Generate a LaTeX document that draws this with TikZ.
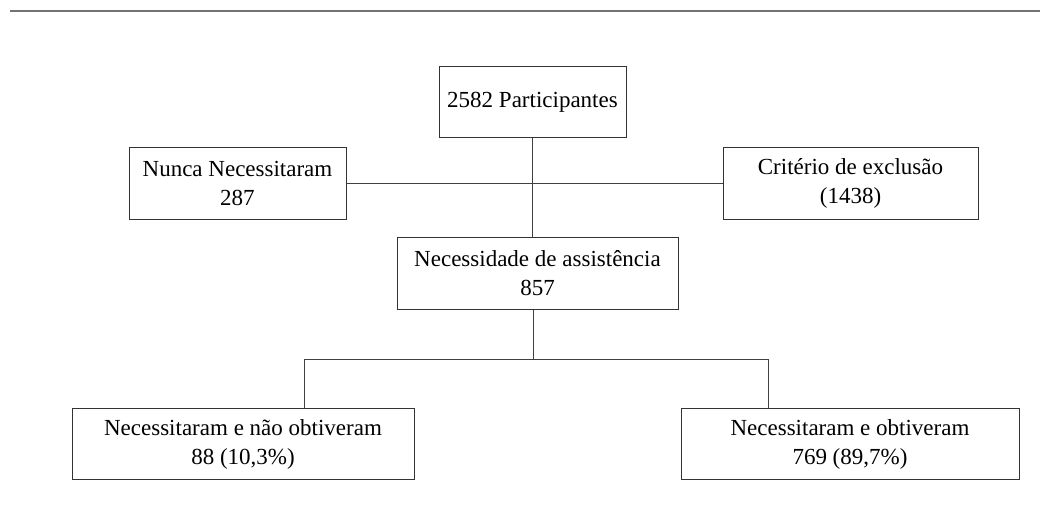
\documentclass[tikz,border=0pt]{standalone}
\usepackage{fontspec}
\setmainfont{Liberation Serif}
\begin{document}
\begin{tikzpicture}
			[x=0.5pt,y=-0.5pt,
			box/.style={draw=black!80,line width=0.5pt,inner sep=0pt,align=center,minimum height=35.75pt,font=\fontsize{11.5}{14.5}\selectfont},
			link/.style={draw=black!75,line width=0.5pt}]
			\useasboundingbox (0,0) rectangle (1040,524);
			\draw[line width=1pt,black!55] (10,11)--(1040,11);
			\node[box,name=part,minimum width=93.5pt] at (532.5,102) {2582 Participantes};
			\node[box,name=nunca,minimum width=108.5pt] at (237.5,183.5) {Nunca Necessitaram\\287};
			\node[box,name=crit,minimum width=127.5pt] at (850.5,183.5) {Critério de exclusão\\(1438)};
			\node[box,name=nec,minimum width=140.5pt] at (537.5,273.5) {Necessidade de assistência\\857};
			\node[box,name=nao,minimum width=171pt] at (243,444) {Necessitaram e não obtiveram\\88 (10,3\%)};
			\node[box,name=obt,minimum width=169pt] at (850,444) {Necessitaram e obtiveram\\769 (89,7\%)};
			\coordinate (split) at (533,359);
			\coordinate (lft) at (304,359);
			\coordinate (rgt) at (768,359);
			\draw[link](part.south)--(part.south|-nec.north);
			\draw[link](nunca.east)--(crit.west);
			\draw[link](nec.south-|split)--(split);
			\draw[link](lft)--(rgt);
			\draw[link](lft)--(lft|-nao.north);
			\draw[link](rgt)--(rgt|-obt.north);
		\end{tikzpicture}
\end{document}
